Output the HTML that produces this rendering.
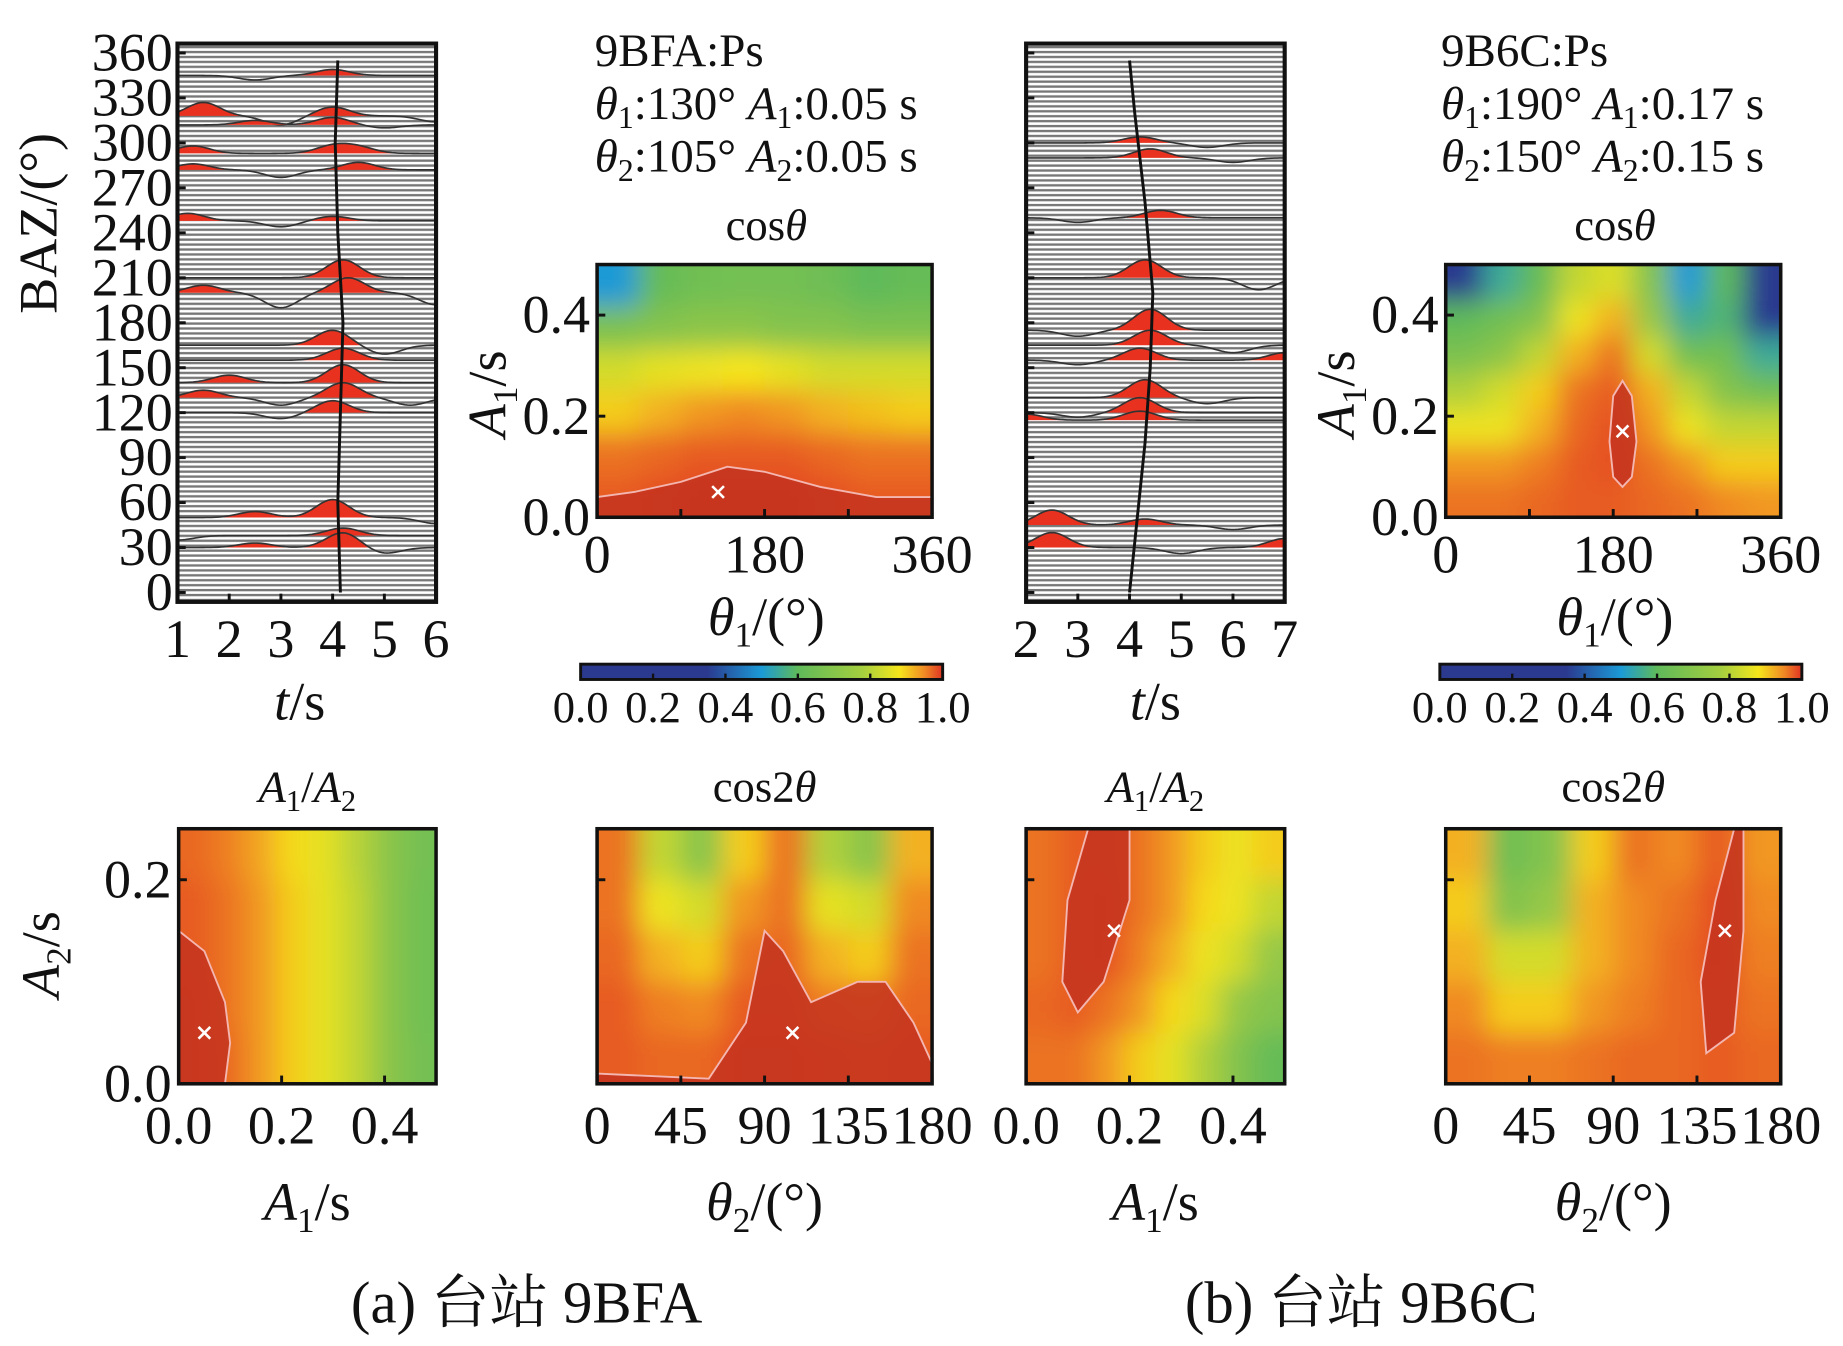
<!DOCTYPE html>
<html><head><meta charset="utf-8"><style>
html,body{margin:0;padding:0;background:#fff;}
svg{display:block;}
text{font-family:"Liberation Serif","Noto Serif CJK SC","Noto Sans CJK SC",serif;fill:#111;}
</style></head><body>
<svg id="fig" xmlns="http://www.w3.org/2000/svg" width="1843" height="1346" viewBox="0 0 1568 1145">
<defs>
<linearGradient id="cbar" x1="0" x2="1" y1="0" y2="0">
<stop offset="0" stop-color="#2b3a8f"/><stop offset="0.35" stop-color="#2b3a8f"/><stop offset="0.5" stop-color="#1b9ad6"/>
<stop offset="0.6" stop-color="#5fba5a"/><stop offset="0.78" stop-color="#a6cf3e"/><stop offset="0.88" stop-color="#f6e61c"/>
<stop offset="0.95" stop-color="#f08a24"/><stop offset="1" stop-color="#e03323"/></linearGradient>
<pattern id="stripes" width="10" height="4.2" patternUnits="userSpaceOnUse"><rect width="10" height="4.2" fill="#fff"/><rect y="1.2" width="10" height="2.0" fill="#777"/></pattern>
<filter id="blur" x="-10%" y="-10%" width="120%" height="120%"><feGaussianBlur stdDeviation="11"/></filter>
</defs>
</svg>
<script>
// ---------- data ----------
const heatA1Vals=[[0.5,0.62,0.65,0.66,0.66,0.64,0.6,0.62],[0.68,0.7,0.72,0.72,0.7,0.7,0.68,0.68],[0.82,0.84,0.85,0.86,0.84,0.82,0.82,0.82],[0.88,0.9,0.92,0.93,0.92,0.9,0.89,0.88],[0.95,0.96,0.97,0.97,0.97,0.96,0.95,0.95],[0.97,0.98,0.99,0.99,0.99,0.98,0.97,0.97]];
const heatB1Vals=[[0.3,0.55,0.62,0.8,0.83,0.7,0.5,0.6,0.3],[0.6,0.65,0.7,0.85,0.9,0.75,0.55,0.58,0.35],[0.68,0.72,0.8,0.9,0.95,0.82,0.65,0.65,0.55],[0.78,0.82,0.88,0.95,0.97,0.9,0.8,0.7,0.65],[0.85,0.85,0.9,0.96,0.98,0.92,0.85,0.8,0.8],[0.92,0.92,0.94,0.97,0.98,0.95,0.92,0.88,0.88],[0.95,0.95,0.96,0.97,0.97,0.96,0.95,0.93,0.92]];
const heatA2Vals=[[0.96,0.94,0.91,0.87,0.84,0.79,0.72,0.66],[0.97,0.95,0.92,0.88,0.84,0.8,0.72,0.65],[0.97,0.95,0.92,0.88,0.84,0.8,0.72,0.65],[0.98,0.95,0.92,0.88,0.84,0.8,0.72,0.65],[0.98,0.96,0.92,0.88,0.84,0.8,0.72,0.66]];
const heatB2Vals=[[0.95,0.8,0.72,0.88,0.95,0.78,0.72,0.9],[0.95,0.85,0.82,0.92,0.95,0.84,0.82,0.93],[0.96,0.9,0.88,0.95,0.96,0.9,0.88,0.95],[0.97,0.94,0.93,0.97,0.97,0.94,0.93,0.96],[0.97,0.96,0.96,0.98,0.98,0.97,0.96,0.97]];
const heatC2Vals=[[0.95,0.97,0.97,0.95,0.92,0.88,0.85,0.88],[0.95,0.97,0.98,0.95,0.92,0.87,0.85,0.8],[0.95,0.97,0.98,0.94,0.9,0.85,0.82,0.75],[0.96,0.97,0.95,0.92,0.87,0.83,0.75,0.7],[0.95,0.95,0.92,0.88,0.84,0.78,0.7,0.62]];
const heatD2Vals=[[0.9,0.65,0.7,0.88,0.95,0.93,0.97,0.92],[0.88,0.7,0.75,0.9,0.93,0.95,0.98,0.93],[0.9,0.82,0.82,0.9,0.93,0.96,0.98,0.94],[0.93,0.88,0.88,0.92,0.94,0.96,0.97,0.95],[0.95,0.94,0.94,0.95,0.96,0.96,0.97,0.96]];
const contA1=[[0,0.04],[40,0.05],[90,0.07],[140,0.1],[180,0.09],[240,0.06],[300,0.04],[360,0.04],[360,0],[0,0]];
const contB1=[[190,0.27],[200,0.24],[205,0.15],[200,0.08],[190,0.06],[180,0.08],[176,0.15],[180,0.24]];
const contA2=[[0,0.15],[0.05,0.13],[0.09,0.08],[0.1,0.04],[0.09,0],[0,0]];
const contB2=[[0,0.01],[60,0.005],[80,0.06],[90,0.15],[100,0.13],[115,0.08],[140,0.1],[155,0.1],[170,0.06],[180,0.02],[180,0],[0,0]];
const contC2=[[0.12,0.25],[0.2,0.25],[0.2,0.18],[0.15,0.1],[0.1,0.07],[0.07,0.1],[0.08,0.18]];
const contD2=[[155,0.25],[160,0.25],[160,0.15],[155,0.05],[140,0.03],[137,0.1],[145,0.18]];
const bestA1=[130,0.05], bestB1=[190,0.17], bestA2=[0.05,0.05], bestB2=[105,0.05], bestC2=[0.17,0.15], bestD2=[150,0.15];
const bazTicks=[0,30,60,90,120,150,180,210,240,270,300,330,360];
const timeTicksA=[1,2,3,4,5,6], timeTicksB=[2,3,4,5,6,7];
const thetaTicks=[0,180,360], theta2Ticks=[0,45,90,135,180];
const a1Ticks=[0.0,0.2,0.4], a2Ticks=[0.0,0.2], cbTicks=[0.0,0.2,0.4,0.6,0.8,1.0];
const tracesABaz=[345,318,312,293,282,248,210,200,165,155,140,130,120,50,38,30];
const tracesAPulses=[[[4,4],[2.5,-3]],[[1.5,9],[3,-6],[4,6],[6,-4]],[[2.5,3],[4,5],[5,-2]],[[1.3,5],[4,5],[4.5,4]],[[1.3,4],[3,-5],[4.5,5]],[[1.2,5],[3,-4],[4,3]],[[4.2,12]],[[1.5,5],[3,-10],[4.3,10],[6,-8]],[[4,10],[5,-6]],[[4.2,8]],[[4.2,12],[2,5]],[[1.5,5],[3,-5],[4.2,10],[5.5,-5]],[[4,8],[3,-4]],[[4,12],[2.5,4],[6,-4]],[[1,-3],[4.2,5]],[[2.5,3],[4.2,10],[5,-4]]];
const tracesBBaz=[300,290,250,210,175,165,155,130,120,115,45,30];
const tracesBPulses=[[[4.2,4],[5.5,-3]],[[4.4,6],[6,-3]],[[4.6,5],[3,-3]],[[4.3,12],[6.5,-8]],[[4.4,14],[3,-4]],[[4.4,10],[6,-5]],[[4.2,8],[3,-3],[7,5]],[[4.3,12],[5.5,-4]],[[4.2,10],[3,-3]],[[2,4],[4.2,6]],[[2.5,10],[4.3,4],[6,-3]],[[2.5,10],[5,-4],[7,6]]];
const moveA=[[4.1,355],[4.05,300],[4.1,240],[4.2,180],[4.15,120],[4.1,60],[4.15,0]];
const moveB=[[4.0,355],[4.1,320],[4.3,260],[4.45,200],[4.4,150],[4.3,100],[4.15,50],[4.0,0]];

// ---------- helpers ----------
const svg=document.getElementById('fig');
const NS='http://www.w3.org/2000/svg';
function mk(tag,attrs,parent){const e=document.createElementNS(NS,tag);for(const k in attrs)e.setAttribute(k,attrs[k]);(parent||svg).appendChild(e);return e;}
function txt(x,y,s,size,anchor,parent,isHtml){const t=mk('text',{x:x,y:y,'font-size':size,'text-anchor':anchor||'middle'},parent);if(isHtml)t.innerHTML=s;else t.textContent=s;return t;}
function cmap(v){const st=[[0,[43,58,143]],[0.35,[43,58,143]],[0.5,[27,154,214]],[0.6,[95,186,90]],[0.75,[150,200,70]],[0.86,[246,230,28]],[0.93,[240,138,36]],[1,[224,58,36]]];
 v=Math.max(0,Math.min(1,v));for(let i=1;i<st.length;i++){if(v<=st[i][0]){const a=st[i-1],b=st[i],f=(v-a[0])/(b[0]-a[0]||1);return 'rgb('+a[1].map((c,j)=>Math.round(c+(b[1][j]-c)*f)).join(',')+')';}}return 'rgb(224,58,36)';}
let clipId=0;
function heatmap(name,x0,y0,w,h,vals,xmax,ymax,cont,best){
 const g=mk('g',{});
 
 
 const cid='clip'+(clipId++);
 const cp=mk('clipPath',{id:cid},svg);mk('rect',{x:x0,y:y0,width:w,height:h},cp);
 const inner=mk('g',{'clip-path':'url(#'+cid+')'},g);
 const bl=mk('g',{filter:'url(#blur)'},inner);
 const rows=vals.length,cols=vals[0].length,cw=w/cols,ch=h/rows;
 vals.forEach((row,r)=>row.forEach((v,c)=>{
  let x=x0+c*cw,y=y0+r*ch,ww=cw+0.5,hh=ch+0.5;
  if(c===0){x-=30;ww+=30;} if(c===cols-1){ww+=30;} if(r===0){y-=30;hh+=30;} if(r===rows-1){hh+=30;}
  const cell=mk('rect',{x:x,y:y,width:ww,height:hh,fill:cmap(v)},bl);
  
  
 }));
 const sx=v=>x0+v/xmax*w, sy=v=>y0+h-v/ymax*h;
 const poly=mk('polygon',{points:cont.map(p=>sx(p[0])+','+sy(p[1])).join(' '),fill:'#c3321f','fill-opacity':0.85,stroke:'#f4b6b0','stroke-width':1.6},inner);
 
 
 const bx=sx(best[0]),by=sy(best[1]);
 const m=mk('path',{d:`M${bx-5},${by-5}L${bx+5},${by+5}M${bx-5},${by+5}L${bx+5},${by-5}`,stroke:'#fff','stroke-width':2.2},g);
 
 
 const fr=mk('rect',{x:x0,y:y0,width:w,height:h,fill:'none',stroke:'#111','stroke-width':3},g);
 
 
 return {sx,sy,g};
}
function ticksY(ax,ticks,x0,labelX,size,fmt){ticks.forEach(t=>{const y=ax.sy(t);mk('line',{x1:x0,x2:x0+7,y1:y,y2:y,stroke:'#111','stroke-width':2.5});const l=txt(labelX,y+15,fmt?t.toFixed(1):String(t),size,'end');});}

function seismo(name,x0,y0,w,h,tmin,tmax,baz,pulses,move,tticks,showY){
 const g=mk('g',{});
 
 
 const sx=t=>x0+(t-tmin)/(tmax-tmin)*w, sy=b=>y0+h-8-b/360*(h-16);
 mk('rect',{x:x0,y:y0,width:w,height:h,fill:'url(#stripes)'},g);
 baz.forEach((b,i)=>{
  let pts=[];for(let k=0;k<=100;k++){const t=tmin+(tmax-tmin)*k/100;let a=0;pulses[i].forEach(p=>{a+=p[1]*Math.exp(-Math.pow((t-p[0])/0.45,2));});pts.push([sx(t),sy(b+a),a]);}
  const base=sy(b);
  let fill='M'+sx(tmin)+','+base+pts.map(p=>'L'+p[0]+','+Math.min(p[1],base)).join('')+'L'+sx(tmax)+','+base+'Z';
  const f=mk('path',{d:fill,fill:'#e8321f'},g);
  
  
  const l=mk('path',{d:'M'+pts.map(p=>p[0]+','+p[1]).join('L'),fill:'none',stroke:'#333','stroke-width':1.4},g);
  
  
 });
 const mv=mk('path',{d:'M'+move.map(p=>sx(p[0])+','+sy(p[1])).join('L'),fill:'none',stroke:'#111','stroke-width':2.5,'stroke-linejoin':'round'},g);
 
 
 const fr=mk('rect',{x:x0,y:y0,width:w,height:h,fill:'none',stroke:'#111','stroke-width':3.5},g);
 
 
 tticks.forEach(t=>{const x=sx(t);mk('line',{x1:x,x2:x,y1:y0+h,y2:y0+h-7,stroke:'#111','stroke-width':2.5});const lb=txt(x,y0+h+47,String(t),46,'middle');});
 bazTicks.forEach(b=>{const y=sy(b);mk('line',{x1:x0,x2:x0+7,y1:y,y2:y,stroke:'#111','stroke-width':2.5});if(showY){const lb=txt(x0-4,y+15,String(b),46,'end');}});
}

// ---------- seismograms ----------
seismo('seismogram-9bfa',151,37,220,475,1,6,tracesABaz,tracesAPulses,moveA,timeTicksA,true);
seismo('seismogram-9b6c',873,37,220,475,2,7,tracesBBaz,tracesBPulses,moveB,timeTicksB,false);
let t;
t=txt(0,0,'BAZ/(°)',46,'middle');t.setAttribute('transform','translate(48,190) rotate(-90)');

t=txt(255,612,'<tspan font-style="italic">t</tspan>/s',46,'middle',null,true);
t=txt(983,612,'<tspan font-style="italic">t</tspan>/s',46,'middle',null,true);

// ---------- info text ----------
function info(x,st,th1,a1,th2,a2){
 let e=txt(x,56,st,40,'start');
 e=txt(x,101,'<tspan font-style="italic">θ</tspan><tspan font-size="27" dy="8">1</tspan><tspan dy="-8">:'+th1+'° </tspan><tspan font-style="italic">A</tspan><tspan font-size="27" dy="8">1</tspan><tspan dy="-8">:'+a1+' s</tspan>',40,'start',null,true);
 e=txt(x,146,'<tspan font-style="italic">θ</tspan><tspan font-size="27" dy="8">2</tspan><tspan dy="-8">:'+th2+'° </tspan><tspan font-style="italic">A</tspan><tspan font-size="27" dy="8">2</tspan><tspan dy="-8">:'+a2+' s</tspan>',40,'start',null,true);
}
info(506,'9BFA:Ps','130','0.05','105','0.05');
info(1226,'9B6C:Ps','190','0.17','150','0.15');

// ---------- top heatmaps ----------
function topHeat(name,x0,vals,cont,best,cbx){
 t=txt(x0+144,204,'cos<tspan font-style="italic">θ</tspan>',38,'middle',null,true);
 const ax=heatmap(name,x0,225,285,215,vals,360,0.5,cont,best);
 thetaTicks.forEach(v=>{const x=ax.sx(v);const l=txt(x,487,String(v),46,'middle');});
 [90,180,270].forEach(v=>{const x=ax.sx(v);mk('line',{x1:x,x2:x,y1:440,y2:433,stroke:'#111','stroke-width':2.5});});
 ticksY(ax,a1Ticks,x0,x0-6,46,true);
 t=txt(0,0,'<tspan font-style="italic">A</tspan><tspan font-size="30" dy="10">1</tspan><tspan dy="-10">/s</tspan>',46,'middle',null,true);t.setAttribute('transform','translate('+(x0-78)+',335) rotate(-90)');
 t=txt(x0+144,540,'<tspan font-style="italic">θ</tspan><tspan font-size="30" dy="10">1</tspan><tspan dy="-10">/(°)</tspan>',46,'middle',null,true);
 const cb=mk('rect',{x:cbx,y:565,width:308,height:13,fill:'url(#cbar)',stroke:'#111','stroke-width':2.5});
 
 cbTicks.forEach(v=>{const x=cbx+v*308;if(v>0&&v<1)mk('line',{x1:x,x2:x,y1:578,y2:573,stroke:'#111','stroke-width':2});const l=txt(x,614,v.toFixed(1),38,'middle');});
}
topHeat('heatmap-cos-9bfa',508,heatA1Vals,contA1,bestA1,494);
topHeat('heatmap-cos-9b6c',1230,heatB1Vals,contB1,bestB1,1225);

// ---------- bottom heatmaps ----------
function botHeat(name,x0,w,vals,xmax,ymax,cont,best,ticks,title,xtitle,ylab){
 t=txt(x0+w/2,682,title,38,'middle',null,true);
 const ax=heatmap(name,x0,705,w,217,vals,xmax,ymax,cont,best);
 ticks.forEach(v=>{const x=ax.sx(v);mk('line',{x1:x,x2:x,y1:922,y2:915,stroke:'#111','stroke-width':2.5});const l=txt(x,973,xmax<1?v.toFixed(1):String(v),46,'middle');});
 a2Ticks.forEach(v=>{const y=ax.sy(v);mk('line',{x1:x0,x2:x0+7,y1:y,y2:y,stroke:'#111','stroke-width':2.5});if(ylab){const l=txt(x0-6,y+15,v.toFixed(1),46,'end');}});
 t=txt(x0+w/2,1038,xtitle,46,'middle',null,true);
}
const a1a2='<tspan font-style="italic">A</tspan><tspan font-size="26" dy="8">1</tspan><tspan dy="-8">/</tspan><tspan font-style="italic">A</tspan><tspan font-size="26" dy="8">2</tspan>';
const cos2='cos2<tspan font-style="italic">θ</tspan>';
const a1s='<tspan font-style="italic">A</tspan><tspan font-size="30" dy="10">1</tspan><tspan dy="-10">/s</tspan>';
const th2='<tspan font-style="italic">θ</tspan><tspan font-size="30" dy="10">2</tspan><tspan dy="-10">/(°)</tspan>';
botHeat('heatmap-a1a2-9bfa',152,219,heatA2Vals,0.5,0.25,contA2,bestA2,a1Ticks,a1a2,a1s,true);
botHeat('heatmap-cos2-9bfa',508,285,heatB2Vals,180,0.25,contB2,bestB2,theta2Ticks,cos2,th2,false);
botHeat('heatmap-a1a2-9b6c',873,220,heatC2Vals,0.5,0.25,contC2,bestC2,a1Ticks,a1a2,a1s,false);
botHeat('heatmap-cos2-9b6c',1230,285,heatD2Vals,180,0.25,contD2,bestD2,theta2Ticks,cos2,th2,false);
t=txt(0,0,'<tspan font-style="italic">A</tspan><tspan font-size="30" dy="10">2</tspan><tspan dy="-10">/s</tspan>',46,'middle',null,true);t.setAttribute('transform','translate(50,812) rotate(-90)');

// ---------- captions ----------
t=txt(448,1125,'(a) 台站 9BFA',50,'middle');
t=txt(1158,1125,'(b) 台站 9B6C',50,'middle');
</script>
</body></html>
